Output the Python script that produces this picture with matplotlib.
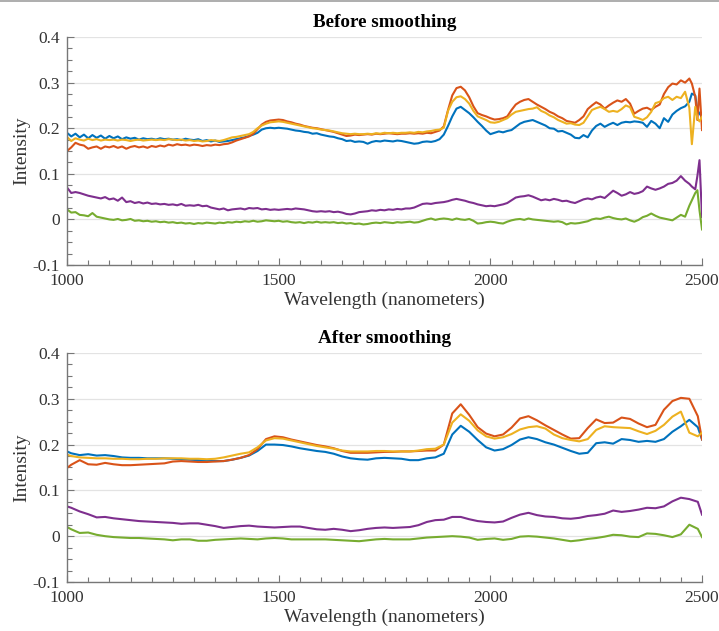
import numpy as np
import matplotlib
matplotlib.use("Agg")
import matplotlib.pyplot as plt
from matplotlib.ticker import MultipleLocator
from matplotlib.lines import Line2D

plt.rcParams['font.family'] = ['Liberation Serif', 'DejaVu Serif']

# raw spectra: 10 nm steps, finer at the noisy tail
wl_raw = np.r_[np.arange(1000, 2471, 10), 2476, 2484, 2489, 2494, 2500]

blue_raw = [
    0.190, 0.182, 0.188, 0.180, 0.186, 0.178, 0.185, 0.179, 0.184, 0.177, 0.183,  # 1000-1100
    0.178, 0.182, 0.176, 0.180, 0.177, 0.179, 0.175, 0.178, 0.176, 0.177,  # -1200
    0.175, 0.178, 0.176, 0.177, 0.175, 0.176, 0.174, 0.177, 0.175, 0.174,  # -1300
    0.176, 0.172, 0.174, 0.171, 0.173, 0.170, 0.171, 0.172, 0.174, 0.176,  # -1400
    0.178, 0.180, 0.183, 0.186, 0.190, 0.197, 0.200, 0.201, 0.200, 0.201,  # -1500
    0.200, 0.199, 0.197, 0.195, 0.194, 0.192, 0.191, 0.188, 0.189, 0.186,  # -1600
    0.184, 0.182, 0.181, 0.178, 0.176, 0.172, 0.173, 0.170, 0.171, 0.170,  # -1700
    0.166, 0.170, 0.172, 0.171, 0.173, 0.172, 0.171, 0.173, 0.172, 0.170,  # -1800
    0.168, 0.166, 0.167, 0.170, 0.171, 0.170, 0.172, 0.176, 0.186, 0.205,  # -1900
    0.226, 0.243, 0.247, 0.240, 0.233, 0.224, 0.214, 0.205, 0.195, 0.187,  # -2000
    0.190, 0.193, 0.191, 0.194, 0.196, 0.203, 0.210, 0.214, 0.216, 0.218,  # -2100
    0.214, 0.210, 0.206, 0.200, 0.199, 0.193, 0.194, 0.190, 0.186, 0.179,  # -2200
    0.178, 0.185, 0.180, 0.195, 0.205, 0.210, 0.203, 0.208, 0.212, 0.207,  # -2300
    0.212, 0.214, 0.213, 0.215, 0.214, 0.212, 0.203, 0.216, 0.210, 0.200,  # -2400
    0.222, 0.214, 0.230, 0.238, 0.244, 0.248, 0.258,  # -2470
    0.276, 0.272, 0.240, 0.232, 0.225,
]
red_raw = [
    0.150, 0.158, 0.168, 0.164, 0.162, 0.155, 0.158, 0.160, 0.155, 0.160, 0.158,
    0.161, 0.157, 0.160, 0.155, 0.159, 0.161, 0.158, 0.160, 0.157, 0.161,
    0.159, 0.162, 0.160, 0.164, 0.162, 0.165, 0.163, 0.164, 0.162, 0.164,
    0.163, 0.161, 0.163, 0.162, 0.164, 0.163, 0.165, 0.166, 0.169, 0.173,
    0.176, 0.179, 0.182, 0.188, 0.198, 0.208, 0.214, 0.217, 0.218, 0.219,
    0.218, 0.215, 0.213, 0.210, 0.208, 0.205, 0.203, 0.201, 0.200, 0.198,
    0.196, 0.194, 0.192, 0.189, 0.186, 0.183, 0.184, 0.186, 0.185, 0.186,
    0.187, 0.186, 0.188, 0.187, 0.188, 0.189, 0.188, 0.187, 0.188, 0.188,
    0.189, 0.188, 0.189, 0.188, 0.190, 0.189, 0.192, 0.195, 0.204, 0.240,
    0.272, 0.288, 0.291, 0.283, 0.268, 0.248, 0.233, 0.229, 0.226, 0.222,
    0.219, 0.220, 0.222, 0.226, 0.240, 0.252, 0.258, 0.262, 0.264, 0.258,
    0.252, 0.247, 0.242, 0.236, 0.232, 0.226, 0.222, 0.216, 0.214, 0.212,
    0.218, 0.226, 0.242, 0.250, 0.257, 0.252, 0.243, 0.250, 0.256, 0.261,
    0.258, 0.264, 0.254, 0.232, 0.238, 0.243, 0.245, 0.240, 0.247, 0.252,
    0.275, 0.290, 0.298, 0.296, 0.305, 0.300, 0.309,
    0.298, 0.269, 0.218, 0.287, 0.196,
]
yellow_raw = [
    0.181, 0.172, 0.178, 0.175, 0.173, 0.177, 0.174, 0.176, 0.173, 0.175, 0.174,
    0.175, 0.173, 0.175, 0.174, 0.172, 0.174, 0.175, 0.173, 0.174, 0.175,
    0.174, 0.175, 0.174, 0.176, 0.175, 0.174, 0.175, 0.173, 0.174, 0.172,
    0.173, 0.171, 0.172, 0.174, 0.173, 0.172, 0.174, 0.177, 0.180, 0.181,
    0.183, 0.185, 0.187, 0.192, 0.200, 0.206, 0.210, 0.213, 0.214, 0.215,
    0.214, 0.212, 0.210, 0.208, 0.206, 0.204, 0.202, 0.200, 0.199, 0.197,
    0.196, 0.195, 0.193, 0.191, 0.189, 0.188, 0.187, 0.188, 0.187, 0.187,
    0.188, 0.187, 0.189, 0.188, 0.190, 0.189, 0.190, 0.189, 0.190, 0.190,
    0.191, 0.190, 0.192, 0.191, 0.193, 0.194, 0.196, 0.197, 0.201, 0.238,
    0.258, 0.268, 0.270, 0.264, 0.254, 0.238, 0.226, 0.222, 0.218, 0.213,
    0.212, 0.214, 0.218, 0.222, 0.230, 0.236, 0.238, 0.240, 0.242, 0.243,
    0.246, 0.238, 0.234, 0.228, 0.224, 0.218, 0.214, 0.210, 0.211, 0.208,
    0.207, 0.212, 0.226, 0.240, 0.244, 0.247, 0.242, 0.236, 0.238, 0.236,
    0.242, 0.250, 0.246, 0.225, 0.222, 0.218, 0.224, 0.236, 0.255, 0.258,
    0.266, 0.269, 0.262, 0.269, 0.266, 0.280, 0.245,
    0.165, 0.247, 0.222, 0.215, 0.225,
]
purple_raw = [
    0.070, 0.058, 0.060, 0.058, 0.055, 0.052, 0.050, 0.048, 0.046, 0.049, 0.044,
    0.046, 0.041, 0.048, 0.038, 0.040, 0.036, 0.038, 0.035, 0.037, 0.034,
    0.035, 0.033, 0.034, 0.032, 0.033, 0.031, 0.034, 0.030, 0.031, 0.030,
    0.032, 0.029, 0.030, 0.026, 0.024, 0.022, 0.024, 0.020, 0.022, 0.023,
    0.024, 0.022, 0.025, 0.024, 0.025, 0.022, 0.023, 0.021, 0.022, 0.021,
    0.022, 0.023, 0.022, 0.024, 0.023, 0.022, 0.020, 0.018, 0.017, 0.018,
    0.017, 0.018, 0.016, 0.017, 0.015, 0.012, 0.011, 0.013, 0.016, 0.017,
    0.018, 0.020, 0.019, 0.021, 0.020, 0.022, 0.021, 0.023, 0.022, 0.024,
    0.024, 0.026, 0.030, 0.034, 0.035, 0.034, 0.036, 0.037, 0.038, 0.040,
    0.043, 0.045, 0.043, 0.041, 0.038, 0.036, 0.033, 0.031, 0.029, 0.030,
    0.029, 0.031, 0.033, 0.036, 0.042, 0.048, 0.050, 0.051, 0.053, 0.050,
    0.046, 0.042, 0.044, 0.042, 0.045, 0.043, 0.040, 0.041, 0.038, 0.036,
    0.040, 0.044, 0.046, 0.044, 0.048, 0.050, 0.047, 0.055, 0.063, 0.058,
    0.052, 0.055, 0.060, 0.056, 0.058, 0.062, 0.072, 0.068, 0.065, 0.068,
    0.072, 0.078, 0.080, 0.085, 0.095, 0.085, 0.078,
    0.072, 0.066, 0.095, 0.130, 0.005,
]
green_raw = [
    0.022, 0.015, 0.016, 0.010, 0.009, 0.007, 0.014, 0.006, 0.004, 0.002, 0.000,
    -0.001, 0.001, -0.002, -0.001, 0.001, -0.003, -0.002, -0.004, -0.003, -0.005,
    -0.004, -0.006, -0.005, -0.007, -0.006, -0.008, -0.007, -0.009, -0.008, -0.010,
    -0.008, -0.009, -0.007, -0.008, -0.009, -0.007, -0.008, -0.006, -0.007, -0.005,
    -0.006, -0.004, -0.005, -0.003, -0.005, -0.004, -0.002, -0.003, -0.004, -0.003,
    -0.005, -0.004, -0.006, -0.007, -0.006, -0.008, -0.006, -0.007, -0.005, -0.007,
    -0.006, -0.007, -0.006, -0.008, -0.007, -0.009, -0.008, -0.010, -0.009, -0.011,
    -0.010, -0.008, -0.007, -0.008, -0.006, -0.007, -0.008, -0.006, -0.007, -0.006,
    -0.005, -0.007, -0.006, -0.003, 0.000, 0.002, -0.001, 0.001, 0.002, 0.001,
    -0.001, 0.002, 0.000, -0.001, 0.001, -0.003, -0.009, -0.008, -0.006, -0.005,
    -0.006, -0.008, -0.009, -0.005, -0.002, 0.000, 0.001, -0.001, 0.002, 0.000,
    -0.001, -0.002, -0.003, -0.004, -0.005, -0.004, -0.006, -0.011, -0.008, -0.009,
    -0.008, -0.006, -0.004, 0.000, 0.002, 0.001, 0.004, 0.006, 0.003, 0.001,
    0.000, 0.002, -0.002, -0.005, -0.001, 0.005, 0.008, 0.013, 0.008, 0.004,
    0.002, 0.000, -0.002, 0.004, 0.010, 0.006, 0.030,
    0.042, 0.058, 0.064, 0.020, -0.022,
]

# smoothed spectra: 20 nm steps (1010, 1030, ...) plus both ends
wl_smooth = np.r_[1000, np.arange(1010, 2491, 20), 2500]

blue_smooth = [
    0.185,
    0.181, 0.177, 0.179, 0.176, 0.177,  # 1010-1090
    0.175, 0.172, 0.171, 0.171, 0.170,  # 1110-1190
    0.170, 0.170, 0.169, 0.168, 0.167,
    0.166, 0.165, 0.164, 0.164, 0.167,
    0.171, 0.176, 0.186, 0.200, 0.200,
    0.199, 0.196, 0.192, 0.189, 0.186,
    0.184, 0.180, 0.174, 0.170, 0.168,
    0.167, 0.170, 0.171, 0.170, 0.169,
    0.166, 0.166, 0.170, 0.172, 0.180,
    0.222, 0.241, 0.228, 0.210, 0.194,
    0.187, 0.190, 0.199, 0.211, 0.216,
    0.212, 0.205, 0.200, 0.193, 0.186,
    0.180, 0.182, 0.203, 0.205, 0.202,
    0.212, 0.210, 0.206, 0.208, 0.206,
    0.212, 0.228, 0.240, 0.254, 0.238,  # 2410-2490
    0.211,
]
red_smooth = [
    0.149,
    0.156, 0.166, 0.157, 0.156, 0.160,
    0.157, 0.155, 0.155, 0.156, 0.157,
    0.158, 0.159, 0.163, 0.164, 0.163,
    0.162, 0.162, 0.163, 0.164, 0.167,
    0.171, 0.177, 0.190, 0.212, 0.218,
    0.216, 0.211, 0.207, 0.203, 0.199,
    0.196, 0.192, 0.186, 0.182, 0.182,
    0.182, 0.183, 0.184, 0.184, 0.185,
    0.185, 0.186, 0.187, 0.187, 0.200,
    0.268, 0.288, 0.265, 0.238, 0.224,
    0.218, 0.222, 0.237, 0.257, 0.262,
    0.253, 0.242, 0.232, 0.222, 0.213,
    0.214, 0.236, 0.255, 0.247, 0.248,
    0.259, 0.256, 0.246, 0.238, 0.243,
    0.276, 0.295, 0.302, 0.300, 0.262,
    0.211,
]
yellow_smooth = [
    0.178,
    0.175, 0.172, 0.171, 0.170, 0.170,
    0.169, 0.169, 0.168, 0.168, 0.169,
    0.169, 0.170, 0.170, 0.170, 0.169,
    0.169, 0.168, 0.169, 0.172, 0.176,
    0.180, 0.183, 0.194, 0.209, 0.214,
    0.213, 0.209, 0.205, 0.201, 0.197,
    0.194, 0.191, 0.187, 0.185, 0.185,
    0.185, 0.186, 0.186, 0.185, 0.185,
    0.185, 0.187, 0.190, 0.191, 0.200,
    0.248, 0.266, 0.252, 0.231, 0.218,
    0.213, 0.216, 0.223, 0.233, 0.238,
    0.240, 0.235, 0.222, 0.214, 0.210,
    0.207, 0.212, 0.232, 0.240, 0.238,
    0.237, 0.236, 0.229, 0.223, 0.230,
    0.243, 0.261, 0.272, 0.226, 0.218,
    0.226,
]
purple_smooth = [
    0.065,
    0.062, 0.054, 0.048, 0.041, 0.042,
    0.039, 0.037, 0.035, 0.033, 0.032,
    0.031, 0.030, 0.029, 0.027, 0.028,
    0.028, 0.025, 0.022, 0.018, 0.020,
    0.022, 0.023, 0.021, 0.020, 0.019,
    0.020, 0.021, 0.021, 0.018, 0.015,
    0.014, 0.016, 0.014, 0.011, 0.013,
    0.016, 0.018, 0.019, 0.018, 0.019,
    0.020, 0.024, 0.031, 0.035, 0.036,
    0.042, 0.042, 0.037, 0.033, 0.031,
    0.030, 0.032, 0.040, 0.047, 0.051,
    0.046, 0.043, 0.042, 0.039, 0.038,
    0.040, 0.044, 0.046, 0.049, 0.056,
    0.053, 0.055, 0.058, 0.062, 0.061,
    0.065, 0.076, 0.084, 0.081, 0.075,
    0.047,
]
green_smooth = [
    0.020,
    0.015, 0.007, 0.008, 0.003, 0.000,
    -0.002, -0.003, -0.004, -0.004, -0.005,
    -0.006, -0.007, -0.009, -0.007, -0.007,
    -0.010, -0.010, -0.008, -0.007, -0.006,
    -0.005, -0.006, -0.007, -0.005, -0.004,
    -0.005, -0.007, -0.007, -0.007, -0.007,
    -0.007, -0.008, -0.009, -0.010, -0.011,
    -0.009, -0.007, -0.006, -0.007, -0.007,
    -0.007, -0.005, -0.003, -0.002, -0.001,
    0.000, -0.001, -0.003, -0.008, -0.006,
    -0.005, -0.008, -0.006, -0.001, 0.000,
    -0.001, -0.003, -0.005, -0.008, -0.011,
    -0.009, -0.006, -0.004, -0.001, 0.003,
    0.002, -0.001, -0.002, 0.006, 0.005,
    0.002, -0.002, 0.004, 0.025, 0.016,
    -0.002,
]

colors = ['#0072BD', '#D95319', '#EDB120', '#7E2F8E', '#77AC30']
yticks = [-0.1, 0, 0.1, 0.2, 0.3, 0.4]
ylabels = ['-0.1', '0', '0.1', '0.2', '0.3', '0.4']
xticks = [1000, 1500, 2000, 2500]

raw = [blue_raw, red_raw, yellow_raw, purple_raw, green_raw]
smooth = [blue_smooth, red_smooth, yellow_smooth, purple_smooth, green_smooth]
for s in raw:
    assert len(s) == len(wl_raw), len(s)
for s in smooth:
    assert len(s) == len(wl_smooth), len(s)

fig = plt.figure(figsize=(7.19, 6.31), dpi=100)
ax1 = fig.add_axes([0.0932, 0.580, 0.8832, 0.3613])
ax2 = fig.add_axes([0.0932, 0.0777, 0.8832, 0.3629])


def style(ax, title):
    ax.set_xlim(1000, 2500)
    ax.set_ylim(-0.1, 0.4)
    ax.set_xticks(xticks)
    ax.set_yticks(yticks)
    ax.set_yticklabels(ylabels)
    ax.xaxis.set_minor_locator(MultipleLocator(50))
    ax.yaxis.set_minor_locator(MultipleLocator(0.025))
    ax.spines['top'].set_visible(False)
    ax.spines['right'].set_visible(False)
    for sp in ('left', 'bottom'):
        ax.spines[sp].set_color('#777777')
        ax.spines[sp].set_linewidth(1.0)
    ax.tick_params(which='both', direction='in', colors='#777777',
                   labelcolor='#333333', labelsize=12.5, top=False, right=False)
    ax.tick_params(axis='x', which='major', length=5, width=0.8, pad=6)
    ax.tick_params(axis='y', which='major', length=5, width=0.8, pad=5)
    ax.tick_params(which='minor', length=3.5, width=0.8)
    ax.yaxis.grid(True, color='#e3e3e3', linewidth=0.9)
    ax.set_axisbelow(True)
    ax.set_xlabel('Wavelength (nanometers)', fontsize=14, color='#333333', labelpad=2)
    ax.set_ylabel('Intensity', fontsize=14, color='#333333', labelpad=2)
    ax.set_title(title, fontsize=13.8, fontweight='bold', color='black', pad=7)


for s, c in zip(raw, colors):
    ax1.plot(wl_raw, s, color=c, lw=1.5)
for s, c in zip(smooth, colors):
    ax2.plot(wl_smooth, s, color=c, lw=1.5)

style(ax1, 'Before smoothing')
style(ax2, 'After smoothing')

fig.add_artist(Line2D([0, 1], [0.999, 0.999], color='#a0a0a0', lw=1.2,
                      transform=fig.transFigure))

fig.savefig('out.png', dpi=100)
